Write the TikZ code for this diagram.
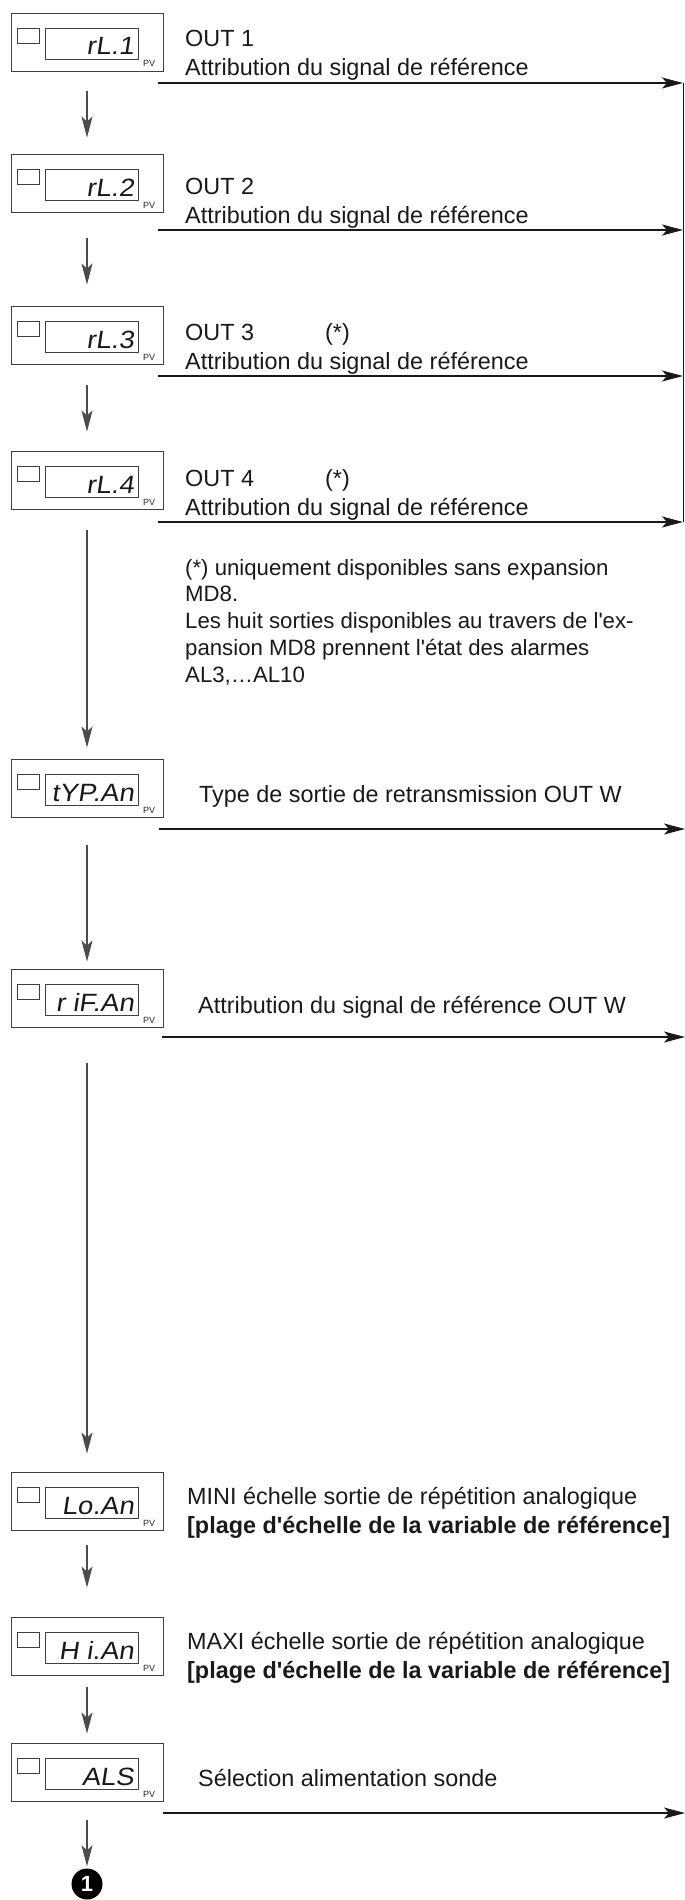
\documentclass[tikz,border=0pt]{standalone}
\usepackage{fontspec}
\setmainfont{Liberation Sans}[Ligatures=TeXOff]
\newfontfamily\lcdfont[FakeSlant=0.15,FakeStretch=1.1]{Liberation Sans}
\usetikzlibrary{arrows.meta}

% one instrument display: outer frame, LED square, digit window, PV tag
\newcommand\lcdpanel[3]{%
  \node[panel] (#1) at (87,#2+29) {};
  \draw[lcdframe] (17,#2+15) rectangle (39,#2+30);
  \draw[lcdframe] (45,#2+15) rectangle (138,#2+46);
  \node[lcd] (#1-d) at (134,#2+42) {#3};
  \node[pv] (#1-pv) at (143,#2+54) {PV};
}

\begin{document}
\begin{tikzpicture}[x=1pt,y=-1pt,
  panel/.style={draw=black!75, line width=0.9pt, minimum width=152pt,
    minimum height=58pt, inner sep=0pt},
  lcdframe/.style={draw=black!75, line width=0.8pt},
  lcd/.style={font=\lcdfont\fontsize{25}{25}\selectfont, inner sep=0pt,
    anchor=base east, text=black!90},
  pv/.style={font=\fontsize{9}{9}\selectfont, inner sep=0pt, anchor=base west,
    text=black!85},
  lbl/.style={font=\fontsize{23.4}{28}\selectfont, inner sep=0pt,
    anchor=base west, text=black!90},
  boldlbl/.style={lbl, font=\bfseries\fontsize{23.4}{28}\selectfont},
  arrowtip/.style={-{Stealth[length=21pt,width=11pt,inset=5pt]}},
  flow/.style={draw=black!70, line width=1.1pt, arrowtip},
  branch/.style={draw=black!90, line width=1.1pt, arrowtip},
]
\useasboundingbox (0,0) rectangle (685,1900);

% ---- displays
\lcdpanel{b1}{13}{rL.1}
\lcdpanel{b2}{154}{rL.2}
\lcdpanel{b3}{306}{rL.3}
\lcdpanel{b4}{451}{rL.4}
\lcdpanel{b5}{759}{tYP.An}
\lcdpanel{b6}{969}{r iF.An}
\lcdpanel{b7}{1472}{Lo.An}
\lcdpanel{b8}{1617}{H i.An}
\lcdpanel{b9}{1743}{ALS}
\node[circle, fill=black, minimum size=31pt, inner sep=0pt, text=white,
  font=\bfseries\fontsize{22}{22}\selectfont] (end) at (87,1884) {1};

% ---- labels
\node[lbl] (t1a) at (185,47) {OUT 1};
\node[lbl] (t1b) at (185,76) {Attribution du signal de référence};
\node[lbl] (t2a) at (185,194) {OUT 2};
\node[lbl] (t2b) at (185,223) {Attribution du signal de référence};
\node[lbl] (t3a) at (185,340) {OUT 3};
\node[lbl] (t3s) at (325,340) {(*)};
\node[lbl] (t3b) at (185,369) {Attribution du signal de référence};
\node[lbl] (t4a) at (185,486) {OUT 4};
\node[lbl] (t4s) at (325,486) {(*)};
\node[lbl] (t4b) at (185,515) {Attribution du signal de référence};
\node[lbl, font=\fontsize{22.2}{26.75}\selectfont, align=left,
  anchor=north west] (note) at (185,558.8)
  {(*) uniquement disponibles sans expansion\\
  MD8.\\
  Les huit sorties disponibles au travers de l'ex-\\
  pansion MD8 prennent l'état des alarmes\\
  AL3,…AL10};
\node[lbl] (t5) at (199,802) {Type de sortie de retransmission OUT W};
\node[lbl] (t6) at (198,1013) {Attribution du signal de référence OUT W};
\node[lbl] (t7a) at (187,1504) {MINI échelle sortie de répétition analogique};
\node[boldlbl] (t7b) at (187,1533)
  {[plage d'échelle de la variable de référence]};
\node[lbl] (t8a) at (187,1649) {MAXI échelle sortie de répétition analogique};
\node[boldlbl] (t8b) at (187,1678)
  {[plage d'échelle de la variable de référence]};
\node[lbl] (t9) at (198,1786) {Sélection alimentation sonde};

% ---- output branches
\coordinate (s1) at (158,83);   \coordinate (e1) at (683,83);
\coordinate (s2) at (158,230);  \coordinate (e2) at (683,230);
\coordinate (s3) at (158,376);  \coordinate (e3) at (683,376);
\coordinate (s4) at (158,522);  \coordinate (e4) at (683,522);
\coordinate (s5) at (159,829);  \coordinate (e5) at (685,829);
\coordinate (s6) at (162,1037); \coordinate (e6) at (685,1037);
\coordinate (s9) at (163,1813); \coordinate (e9) at (685,1813);
\foreach \i in {1,2,3,4,5,6,9} \draw[branch] (s\i) -- (e\i);
\draw[black!90, line width=1.2pt] ([xshift=0.5pt]e1) -- ([xshift=0.5pt]e4);

% ---- main sequence
\draw[flow] ([yshift=-20pt]b1.south) -- ([yshift=16pt]b2.north);
\draw[flow] ([yshift=-26pt]b2.south) -- ([yshift=21pt]b3.north);
\draw[flow] ([yshift=-21pt]b3.south) -- ([yshift=19pt]b4.north);
\draw[flow] ([yshift=-21pt]b4.south) -- ([yshift=11pt]b5.north);
\draw[flow] ([yshift=-28pt]b5.south) -- ([yshift=7pt]b6.north);
\draw[flow] ([yshift=-36pt]b6.south) -- ([yshift=18pt]b7.north);
\draw[flow] ([yshift=-15pt]b7.south) -- ([yshift=29pt]b8.north);
\draw[flow] ([yshift=-12pt]b8.south) -- ([yshift=9pt]b9.north);
\draw[flow] ([yshift=-19pt]b9.south) -- ([yshift=2pt]end.north);
\end{tikzpicture}
\end{document}
